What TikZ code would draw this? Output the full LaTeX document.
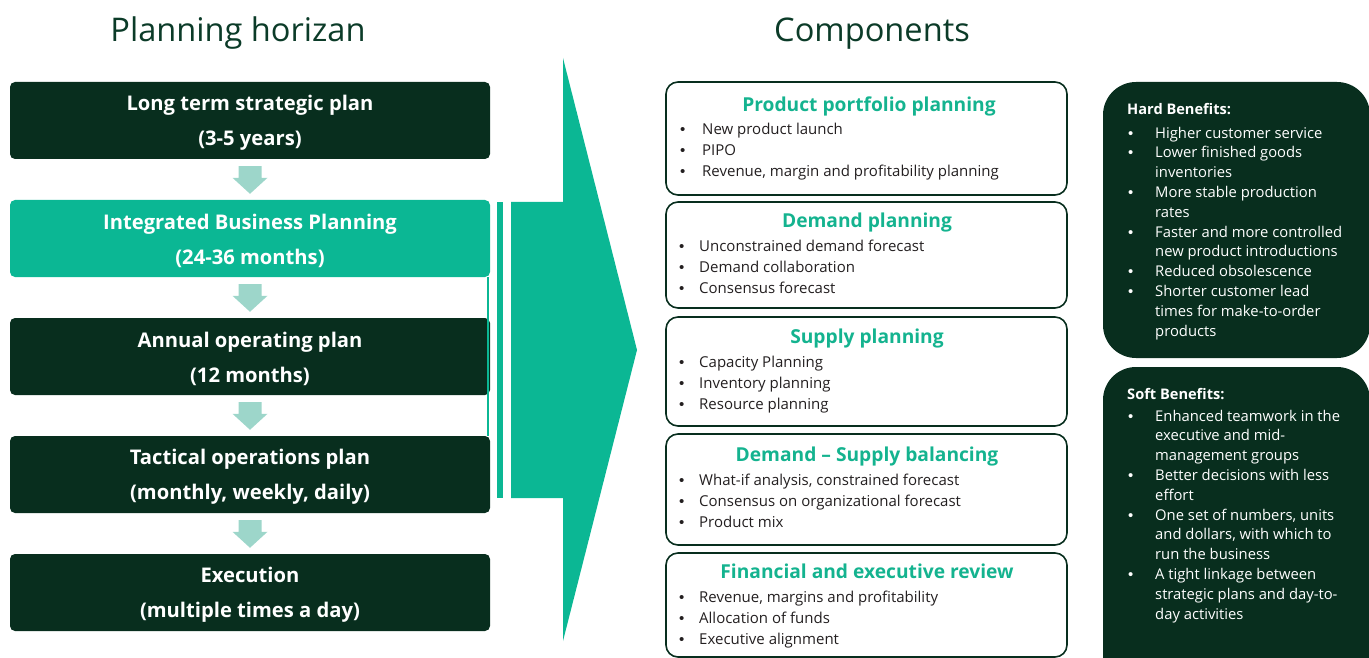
\documentclass[tikz,border=0pt]{standalone}
\usepackage{fontspec}
\setmainfont{Open Sans}
\newfontfamily\dotfont{Liberation Sans}
\usetikzlibrary{calc}
\definecolor{deepgreen}{HTML}{082E1E}
\definecolor{headgreen}{HTML}{0B3B28}
\definecolor{teal}{HTML}{0BB794}
\definecolor{titleteal}{HTML}{14B38F}
\definecolor{paleteal}{HTML}{9DD6CA}
\definecolor{bodytext}{HTML}{231F20}
\newcommand\bul{{\dotfont •}}
\begin{document}
\begin{tikzpicture}[x=1pt,y=-1pt,
  heading/.style={anchor=base, inner sep=0pt, text=headgreen, font=\fontsize{32.6}{38}\selectfont},
  planbox/.style={rounded corners=5pt, fill=deepgreen, minimum width=480pt, minimum height=77pt, inner sep=0pt},
  ibpbox/.style={planbox, fill=teal},
  plantext/.style={text=white, inner sep=0pt, align=center, font=\fontsize{20.2}{35}\selectfont\bfseries},
  compbox/.style={draw=deepgreen, line width=1.6pt, rounded corners=12pt, minimum width=401pt, inner sep=0pt},
  comptitle/.style={anchor=base, inner sep=0pt, text=titleteal, font=\fontsize{19.2}{23}\selectfont\bfseries},
  bullets/.style={anchor=north west, inner sep=0pt, text=bodytext, font=\fontsize{15}{21}\selectfont},
  benefitbox/.style={fill=deepgreen, rounded corners=33pt, inner sep=0pt},
  benefithead/.style={anchor=base west, inner sep=0pt, text=white, font=\fontsize{14.6}{19.8}\selectfont\bfseries},
  benefitlist/.style={anchor=north west, inner sep=0pt, text=white, font=\fontsize{14.8}{19.8}\selectfont},
  downarrow/.style={fill=paleteal},
  bigarrow/.style={fill=teal}
]
\useasboundingbox (0,0) rectangle (1369,658);

% column headings
\node[heading] (hplan) at (238,42) {Planning horizan};
\node[heading] (hcomp) at (872,42) {Components};

% planning horizon boxes
\node[planbox]  (b1) at (250,120.5) {};
\node[ibpbox]   (b2) at (250,238.5) {};
\node[planbox]  (b3) at (250,356.5) {};
\node[planbox]  (b4) at (250,474.5) {};
\node[planbox]  (b5) at (250,592.5) {};
\node[plantext] (b1t) at ($(b1)+(0,2.5)$) {Long term strategic plan\\(3-5 years)};
\node[plantext] (b2t) at ($(b2)+(0,2.5)$) {Integrated Business Planning\\(24-36 months)};
\node[plantext] (b3t) at ($(b3)+(0,2.5)$) {Annual operating plan\\(12 months)};
\node[plantext] (b4t) at ($(b4)+(0,2.5)$) {Tactical operations plan\\(monthly, weekly, daily)};
\node[plantext] (b5t) at ($(b5)+(0,2.5)$) {Execution\\(multiple times a day)};

% block arrows between consecutive horizons
\foreach \a/\b in {b1/b2,b2/b3,b3/b4,b4/b5}{
  \fill[downarrow] ($(\a.south)+(-11.5,7)$) -- ($(\a.south)+(11.5,7)$)
    -- ($(\b.north)+(11.5,-22)$) -- ($(\b.north)+(17.5,-22)$) -- ($(\b.north)+(0,-6)$)
    -- ($(\b.north)+(-17.5,-22)$) -- ($(\b.north)+(-11.5,-22)$) -- cycle;
}

% IBP bracket: edge line, thin strip and the large arrow
\draw[teal, line width=2pt] ($(b2.south east)+(-2,0)$) -- ($(b4.north east)+(-2,0)$);
\fill[teal] ($(b2.north east)+(7,2)$) rectangle ($(b4.south east)+(13,-15)$);
\fill[bigarrow] ($(b2.north east)+(21,2)$) coordinate (shaftTL) -- (563,202) -- (563,58)
  -- (637,350) coordinate (tip) -- (563,641) -- (563,498) -- ($(b4.south east)+(21,-15)$) -- cycle;

% component boxes
\node[compbox, minimum height=113pt] (c1) at (866.5,138.5) {};
\node[compbox, minimum height=106pt] (c2) at (866.5,255) {};
\node[compbox, minimum height=109pt] (c3) at (866.5,371.5) {};
\node[compbox, minimum height=111pt] (c4) at (866.5,489.5) {};
\node[compbox, minimum height=104pt] (c5) at (866.5,605) {};

\node[comptitle] (t1) at (869,111.5) {Product portfolio planning};
\node[comptitle] (t2) at (867,227.5) {Demand planning};
\node[comptitle] (t3) at (867,343.5) {Supply planning};
\node[comptitle] (t4) at (867,461.5) {Demand -- Supply balancing};
\node[comptitle] (t5) at (867,578.5) {Financial and executive review};

\node[bullets] (l1) at (680,119.5) {\begin{tabular}{@{}p{22pt}@{}l@{}}
  \bul&New product launch\\
  \bul&PIPO\\
  \bul&Revenue, margin and profitability planning\end{tabular}};
\node[bullets] (l2) at (679,236.5) {\begin{tabular}{@{}p{20pt}@{}l@{}}
  \bul&Unconstrained demand forecast\\
  \bul&Demand collaboration\\
  \bul&Consensus forecast\end{tabular}};
\node[bullets] (l3) at (679,352.5) {\begin{tabular}{@{}p{20pt}@{}l@{}}
  \bul&Capacity Planning\\
  \bul&Inventory planning\\
  \bul&Resource planning\end{tabular}};
\node[bullets] (l4) at (679,470.5) {\begin{tabular}{@{}p{20pt}@{}l@{}}
  \bul&What-if analysis, constrained forecast\\
  \bul&Consensus on organizational forecast\\
  \bul&Product mix\end{tabular}};
\node[bullets] (l5) at (679,587.5) {\begin{tabular}{@{}p{20pt}@{}l@{}}
  \bul&Revenue, margins and profitability\\
  \bul&Allocation of funds\\
  \bul&Executive alignment\end{tabular}};

% benefit panels
\node[benefitbox, minimum width=267pt, minimum height=276pt] (hard) at (1236.5,220) {};
\node[benefitbox, minimum width=267pt, minimum height=323pt] (soft) at (1236.5,528.5) {};

\node[benefithead] (hh) at (1127,115) {Hard Benefits:};
\node[benefitlist] (hl) at (1128,124) {\begin{tabular}{@{}p{27pt}@{}l@{}}
  \bul&Higher customer service\\
  \bul&Lower finished goods\\
   &inventories\\
  \bul&More stable production\\
   &rates\\
  \bul&Faster and more controlled\\
   &new product introductions\\
  \bul&Reduced obsolescence\\
  \bul&Shorter customer lead\\
   &times for make-to-order\\
   &products\end{tabular}};

\node[benefithead] (sh) at (1127,399.5) {Soft Benefits:};
\node[benefitlist] (sl) at (1128,407) {\begin{tabular}{@{}p{27pt}@{}l@{}}
  \bul&Enhanced teamwork in the\\
   &executive and mid-\\
   &management groups\\
  \bul&Better decisions with less\\
   &effort\\
  \bul&One set of numbers, units\\
   &and dollars, with which to\\
   &run the business\\
  \bul&A tight linkage between\\
   &strategic plans and day-to-\\
   &day activities\end{tabular}};
\end{tikzpicture}
\end{document}
